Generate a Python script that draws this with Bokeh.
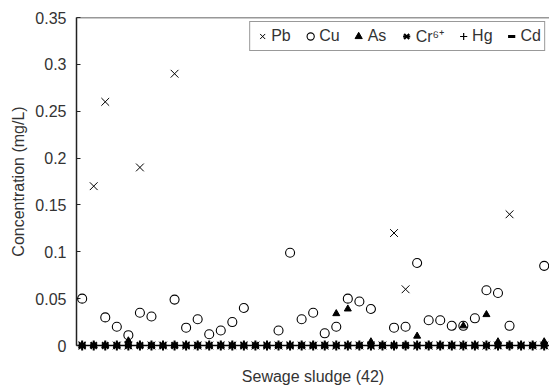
import math
from bokeh.plotting import figure
from bokeh.models import Range1d, FixedTicker, Span, Legend, LegendItem
from bokeh.embed import file_html
from bokeh.resources import INLINE

nan = float("nan")

# sample number (42 sewage sludge samples)
sample = [0, 1, 2, 3, 4, 5, 6, 7, 8, 9, 10, 11, 12, 13, 14, 15, 16, 17, 18, 19, 20,
          21, 22, 23, 24, 25, 26, 27, 28, 29, 30, 31, 32, 33, 34, 35, 36, 37, 38, 39, 40, 41]

pb = [0, 0.17, 0.26, 0, 0, 0.19, 0, 0, 0.29, 0, 0, 0, 0, 0, 0, 0, 0, 0, 0, 0, 0,
      0, 0, 0, 0, 0, 0, 0.12, 0.06, 0, 0, 0, 0, 0, 0, 0, 0, 0.14, 0, 0, 0, 0]

cu = [0.050, nan, 0.030, 0.020, 0.011, 0.035, 0.031, nan, 0.049, 0.019, 0.028,
      0.012, 0.016, 0.025, 0.040, nan, nan, 0.016, 0.099, 0.028, 0.035,
      0.013, 0.020, 0.050, 0.047, 0.039, nan, 0.019, 0.020, 0.088, 0.027,
      0.027, 0.021, 0.021, 0.029, 0.059, 0.056, 0.021, nan, nan, 0.085, nan]

as_ = [0, 0, 0, 0, 0.005, 0, 0, 0, 0, 0, 0, 0, 0, 0, 0, 0, 0, 0, 0, 0, 0,
       0, 0.034, 0.039, 0, 0.004, 0, 0, 0, 0.010, 0, 0, 0, 0.021, 0, 0.033, 0.004, 0, 0, 0, 0.004, 0]

cr6 = [0, 0, 0, 0, 0, 0, 0, 0, 0, 0, 0, 0, 0, 0, 0, 0, 0, 0, 0, 0, 0,
       0, 0, 0, 0, 0, 0, 0, 0, 0, 0, 0, 0, 0, 0, 0, 0, 0, 0, 0, 0, 0]

hg = [0, 0, 0, 0, 0, 0, 0, 0, 0, 0, 0, 0, 0, 0, 0, 0, 0, 0, 0, 0, 0,
      0, 0, 0, 0, 0, 0, 0, 0, 0, 0, 0, 0, 0, 0, 0, 0, 0, 0, 0, 0, 0]

cd = [0, 0, 0, 0, 0, 0, 0, 0, 0, 0, 0, 0, 0, 0, 0, 0, 0, 0, 0, 0, 0,
      0, 0, 0, 0, 0, 0, 0, 0, 0, 0, 0, 0, 0, 0, 0, 0, 0, 0, 0, 0, 0]

y_ticks = [0, 0.05, 0.1, 0.15, 0.2, 0.25, 0.3, 0.35]
y_tick_labels = ["0", "0.05", "0.1", "0.15", "0.2", "0.25", "0.3", "0.35"]

FONT = "Liberation Sans"
TXT = "#333333"
FS = "16px"

p = figure(width=549, height=387, output_backend="svg", toolbar_location=None,
           x_range=Range1d(-0.49, 40.46), y_range=Range1d(0, 0.35),
           min_border_left=76, min_border_right=0, min_border_top=17, min_border_bottom=41)
p.xgrid.visible = False
p.ygrid.visible = False
p.outline_line_color = None
p.background_fill_color = "white"
p.border_fill_color = "white"

yax = p.yaxis[0]
yax.ticker = FixedTicker(ticks=y_ticks)
yax.major_label_overrides = {t: l for t, l in zip(y_ticks, y_tick_labels)}
yax.major_tick_in = 4
yax.major_tick_out = 0
yax.minor_tick_in = 0
yax.minor_tick_out = 0
yax.major_tick_line_color = "#222222"
yax.axis_line_color = "#222222"
yax.axis_line_width = 1.5
yax.major_label_standoff = 10
yax.axis_label = "Concentration (mg/L)"
yax.axis_label_standoff = 5
yax.axis_label_text_font_style = "normal"
yax.axis_label_text_font = FONT
yax.axis_label_text_font_size = FS
yax.axis_label_text_color = TXT
yax.major_label_text_font = FONT
yax.major_label_text_font_size = FS
yax.major_label_text_color = TXT

xax = p.xaxis[0]
xax.ticker = FixedTicker(ticks=[])
xax.major_tick_in = 0
xax.major_tick_out = 0
xax.minor_tick_in = 0
xax.minor_tick_out = 0
xax.major_label_standoff = 0
xax.axis_line_color = "black"
xax.axis_line_width = 1.5
xax.axis_label = "Sewage sludge (42)"
xax.axis_label_standoff = 22
xax.axis_label_text_font_style = "normal"
xax.axis_label_text_font = FONT
xax.axis_label_text_font_size = FS
xax.axis_label_text_color = TXT

p.add_layout(Span(location=0.35, dimension="width", line_color="#333333", line_width=1.5))

r_pb = p.scatter(sample, pb, marker="x", size=11, line_color="black", line_width=1, level="overlay")
r_cu = p.scatter(sample, cu, marker="circle", size=9, fill_color=None, line_color="black",
                 line_width=1.1, level="overlay")
r_as = p.scatter(sample, as_, marker="triangle", size=7, fill_color="black", line_color="black",
                 level="overlay")
r_cr1 = p.scatter(sample, cr6, marker="x", size=9, line_color="black", line_width=2, level="overlay")
r_cr2 = p.scatter(sample, cr6, marker="dash", angle=math.pi / 2, size=10, line_color="black",
                  line_width=2, level="overlay")
r_hg = p.scatter(sample, hg, marker="cross", size=8, line_color="black", line_width=1.2, level="overlay")
r_cd = p.scatter(sample, cd, marker="dash", size=7, line_color="black", line_width=3, level="overlay")

legend = Legend(items=[
    LegendItem(label="Pb", renderers=[r_pb]),
    LegendItem(label="Cu", renderers=[r_cu]),
    LegendItem(label="As", renderers=[r_as]),
    LegendItem(label="Cr\u2076\u207a", renderers=[r_cr1, r_cr2]),
    LegendItem(label="Hg", renderers=[r_hg]),
    LegendItem(label="Cd", renderers=[r_cd]),
], orientation="horizontal", location="top_right", glyph_width=18, glyph_height=18,
    label_standoff=0, spacing=10, padding=3, margin=4, label_height=18,
    border_line_color="#333333", border_line_width=1, background_fill_color="white",
    background_fill_alpha=1.0, label_text_font=FONT, label_text_font_size=FS,
    label_text_color=TXT)
p.add_layout(legend)

open("out.html", "w").write(file_html(p, INLINE))
